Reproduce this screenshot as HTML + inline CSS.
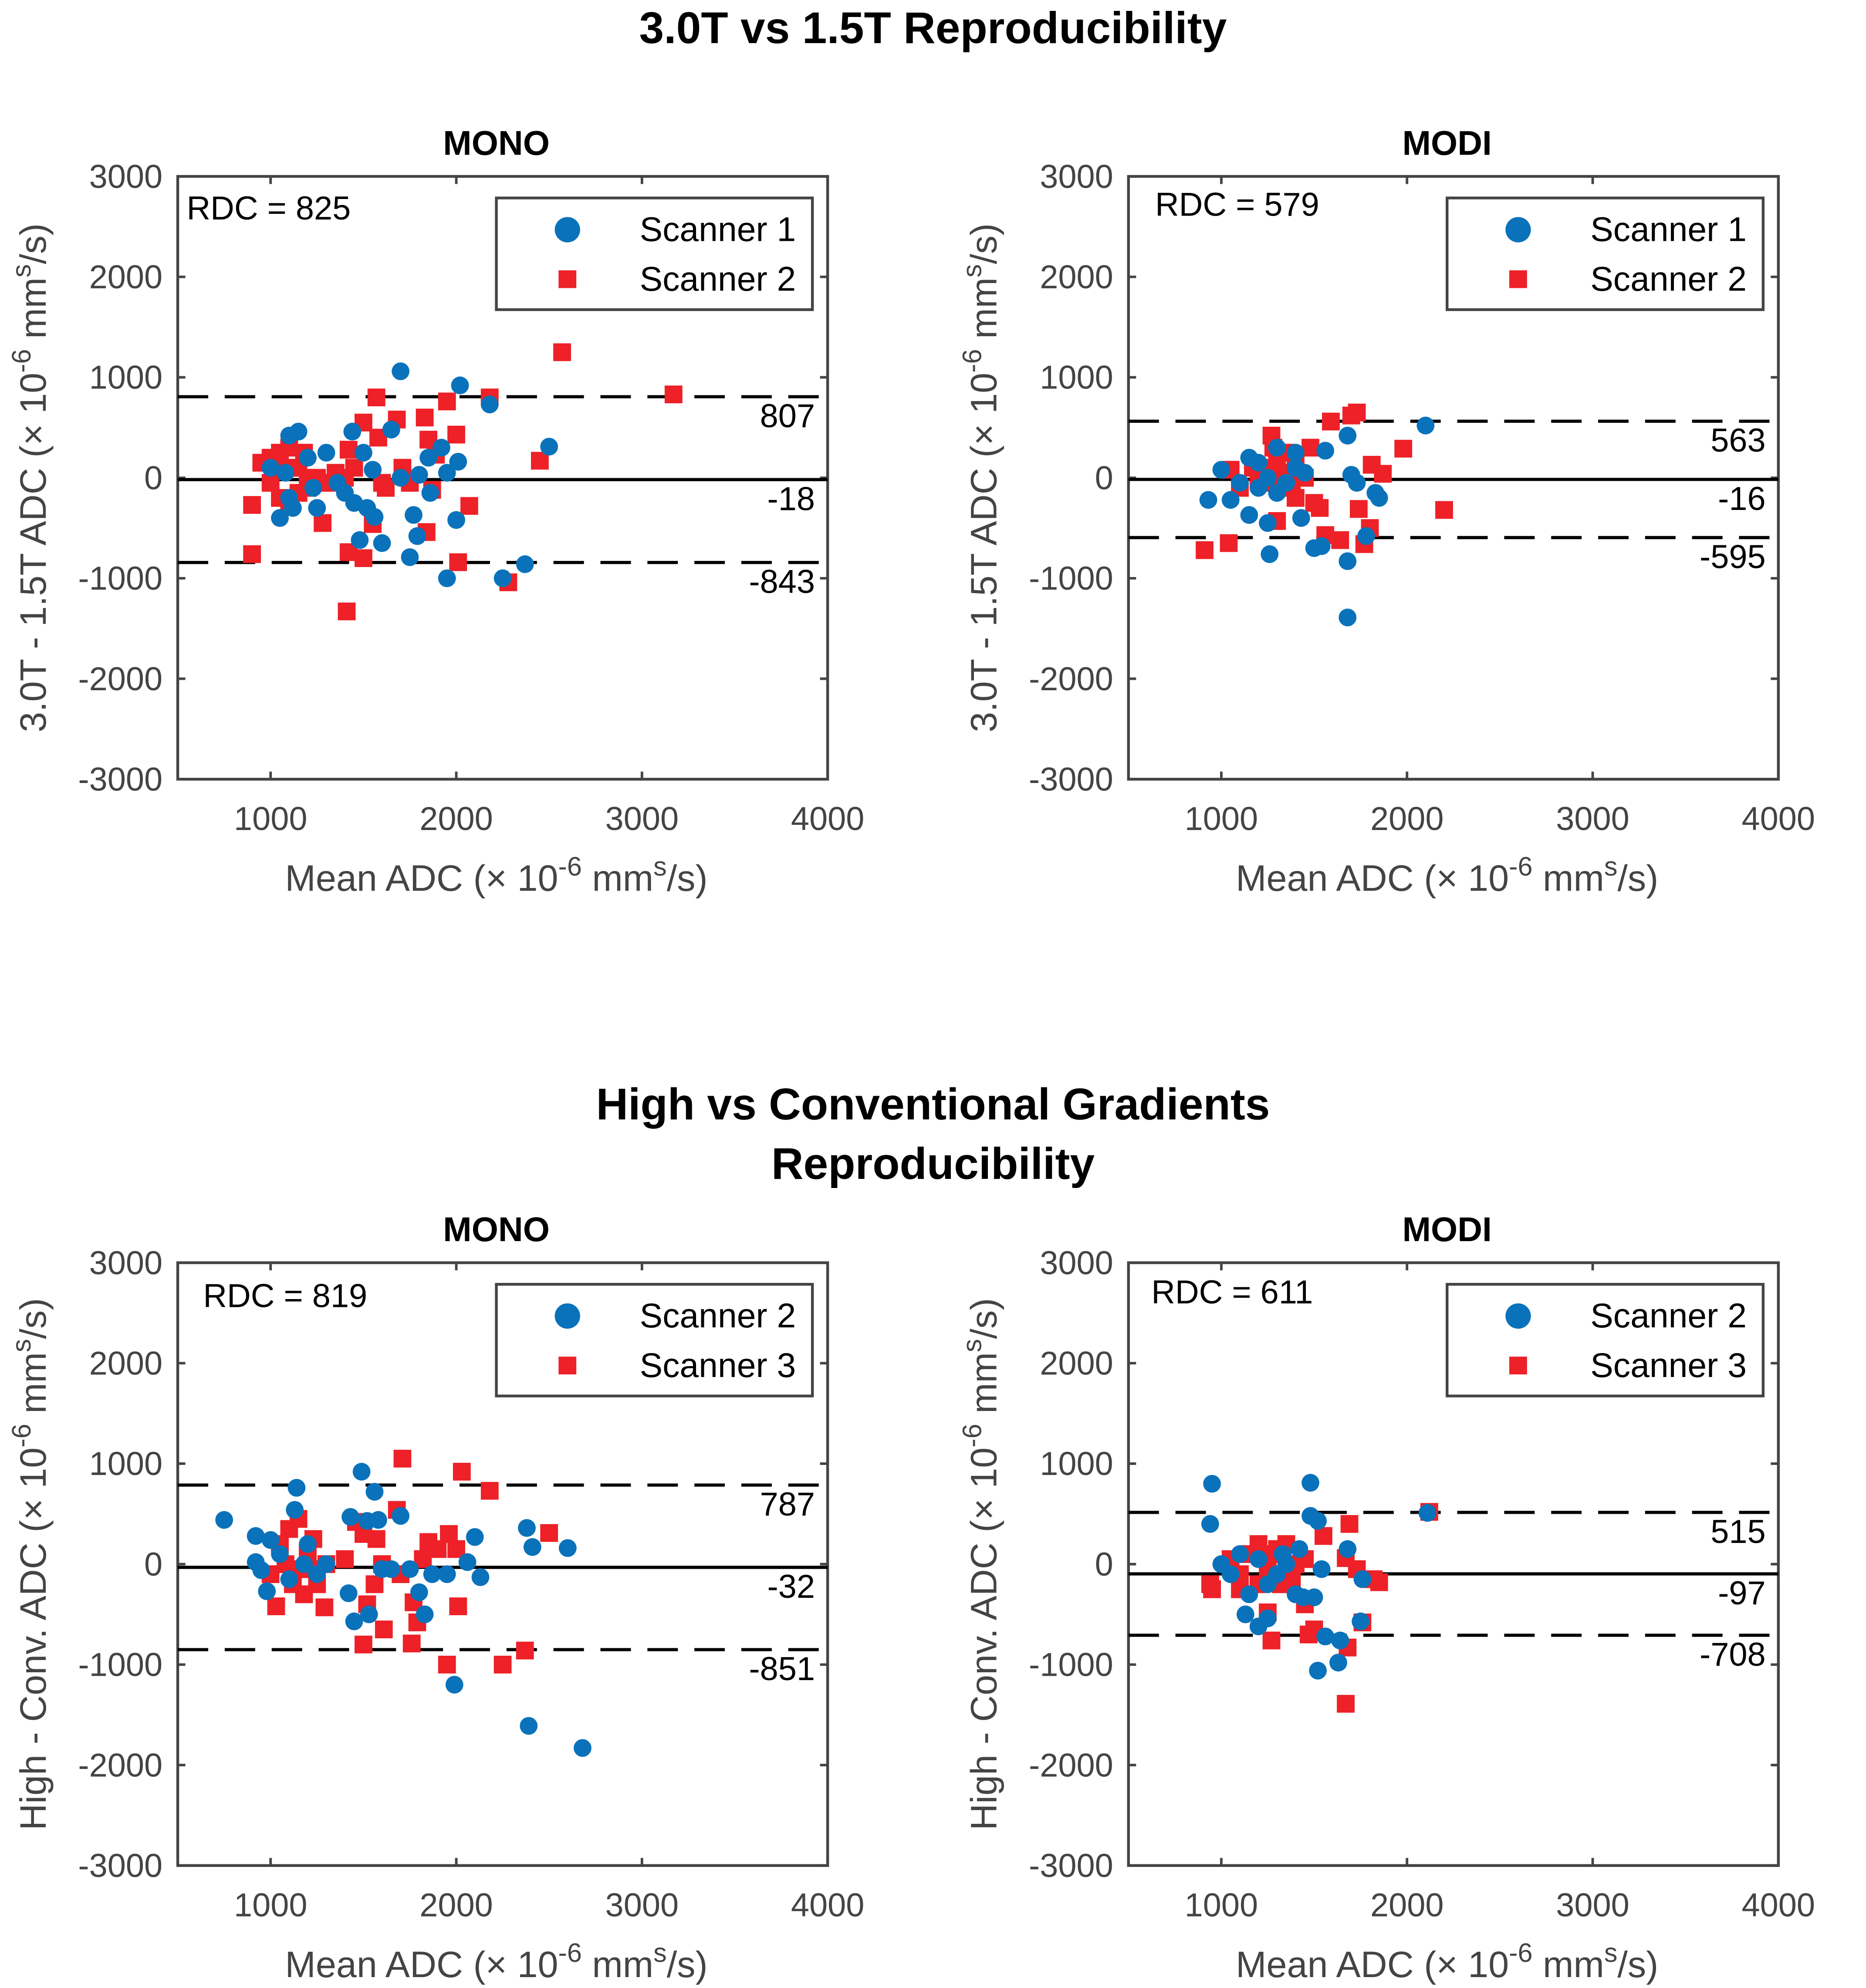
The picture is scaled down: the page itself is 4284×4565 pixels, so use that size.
<!DOCTYPE html>
<html><head><meta charset="utf-8"><style>
html,body{margin:0;padding:0;background:#fff}
svg{display:block}
text{font-family:"Liberation Sans",Arial,sans-serif}
</style></head><body>
<svg id="fig" xmlns="http://www.w3.org/2000/svg" width="4284" height="4565" viewBox="0 0 1470 1566.5">
<text x="735" y="34" text-anchor="middle" font-size="35" font-weight="bold">3.0T vs 1.5T Reproducibility</text>
<text x="735" y="882" text-anchor="middle" font-size="35" font-weight="bold">High vs Conventional Gradients</text>
<text x="735" y="929" text-anchor="middle" font-size="35" font-weight="bold">Reproducibility</text>
</svg>
<script>
// ---- data ----
const p1Scanner1 = [[1700,1060],[2020,920],[2180,730],[2500,310],[1950,-1000],[2250,-1000],[2370,-860],[1750,-790],[1600,-650],[1480,-620],[1790,-580],[1770,-370],[2000,-420],[1560,-390],[1800,30],[1850,200],[1920,300],[2010,160],[1650,480],[1440,460],[1150,460],[1100,420],[1050,-400],[1120,-300],[1250,-300],[1300,250],[1200,200],[1000,100],[1080,50],[1400,-150],[1450,-250],[1520,-300],[1550,80],[1700,0],[1860,-150],[1950,50],[1230,-100],[1100,-200],[1500,250],[1360,-50]];
const p1Scanner2 = [[2570,1250],[3170,830],[2180,800],[1570,800],[1950,760],[1680,580],[1830,600],[1500,550],[1580,400],[1850,380],[2000,430],[1420,280],[1710,100],[1890,230],[2450,170],[2070,-280],[1870,-120],[1620,-100],[1550,-460],[1280,-450],[1500,-800],[1420,-740],[1840,-540],[2010,-840],[2280,-1040],[1410,-1330],[900,-760],[900,-270],[950,150],[1000,-50],[1050,250],[1100,300],[1150,100],[1200,-100],[1050,-200],[1250,0],[1300,-50],[1350,50],[1000,200],[1100,-250],[1180,250],[1400,0],[1450,100],[1600,-50],[1750,-50],[1200,0],[1150,-150],[1080,100]];
const p2Scanner1 = [[2100,520],[1680,420],[1560,270],[1400,250],[1300,300],[1200,150],[1150,200],[1000,80],[930,-220],[1050,-220],[1150,-370],[1260,-760],[1250,-450],[1430,-400],[1500,-700],[1540,-680],[1680,-830],[1680,-1390],[1780,-580],[1830,-150],[1850,-200],[1700,30],[1730,-50],[1350,-50],[1300,-150],[1200,-100],[1100,-50],[1400,100],[1250,0],[1450,50]];
const p2Scanner2 = [[1730,650],[1700,620],[1590,560],[1980,290],[1870,40],[1810,130],[2200,-320],[1740,-310],[1800,-500],[1770,-660],[1640,-620],[1560,-570],[1300,-430],[1040,-650],[910,-720],[1050,80],[1100,-100],[1200,0],[1250,100],[1280,300],[1300,200],[1350,250],[1400,150],[1320,-100],[1230,-50],[1480,300],[1500,-250],[1530,-300],[1400,-200],[1170,100],[1270,420],[1380,-50],[1450,0],[1330,50]];
const p3Scanner2 = [[2680,-1830],[2390,-1610],[1990,-1200],[2380,360],[2410,170],[2600,160],[2100,270],[2130,-130],[2060,20],[1830,-500],[1800,-280],[1950,-100],[1870,-100],[1750,-50],[1700,480],[1490,920],[1560,720],[1520,430],[1430,470],[1140,760],[1130,540],[1000,240],[920,280],[750,440],[920,20],[950,-60],[980,-270],[1050,100],[1100,-150],[1200,200],[1250,-100],[1420,-290],[1450,-570],[1530,-500],[1600,-50],[1650,-50],[1580,440],[1300,0],[1180,0]];
const p3Scanner3 = [[1710,1050],[2030,920],[2180,730],[2500,310],[2370,-860],[2250,-1000],[1950,-1000],[1760,-790],[1500,-800],[1610,-650],[1790,-580],[1770,-380],[2010,-420],[1680,540],[1960,300],[1850,220],[1900,150],[2000,150],[1820,50],[1460,420],[1500,300],[1560,-200],[1520,-400],[1290,-430],[1030,-420],[1000,-100],[1050,200],[1100,350],[1150,450],[1200,100],[1250,-200],[1080,0],[1120,-200],[1180,-300],[1230,250],[1300,0],[1400,50],[1600,0],[1700,-100],[1570,250],[1150,-50],[1220,-50]];
const p4Scanner2 = [[950,800],[940,400],[1480,810],[1480,480],[1520,430],[2110,510],[1750,-570],[1760,-150],[1680,150],[1630,-980],[1520,-1060],[1560,-720],[1640,-760],[1200,-620],[1130,-500],[1250,-540],[1400,-300],[1440,-330],[1500,-330],[1540,-50],[1000,0],[1050,-100],[1100,100],[1200,50],[1300,-100],[1350,0],[1250,-200],[1150,-300],[1420,150],[1330,100]];
const p4Scanner3 = [[2120,520],[1690,400],[1550,280],[1670,60],[1730,-50],[1820,-150],[1850,-180],[1760,-580],[1680,-830],[1670,-1390],[1500,-650],[1470,-700],[1450,-400],[1270,-760],[1250,-480],[940,-200],[950,-250],[1050,50],[1100,-100],[1150,100],[1200,200],[1250,-50],[1300,150],[1350,200],[1400,0],[1450,50],[1380,-150],[1320,-200],[1200,-200],[1260,100],[1100,-250],[1350,-50]];
const xTicks = [1000,2000,3000,4000];
const yTicks = [3000,2000,1000,0,-1000,-2000,-3000];
const meanLines = [-18,-16,-32,-97];
const upperLines = [807,563,787,515];
const lowerLines = [-843,-595,-851,-708];
const rdcValues = [825,579,819,611];

const NS="http://www.w3.org/2000/svg";
const svg=document.getElementById('fig');
function mk(tag,attrs,parent,txt){const e=document.createElementNS(NS,tag);for(const k in attrs)e.setAttribute(k,attrs[k]);if(txt!==undefined)e.textContent=txt;(parent||svg).appendChild(e);return e;}

const panels=[
 {x0:140,y0:139,sub:'MONO',ylab:'3.0T - 1.5T ADC',s:[p1Scanner1,p1Scanner2],names:['Scanner 1','Scanner 2'],rdcX:147,rdcY:173,i:0},
 {x0:889,y0:139,sub:'MODI',ylab:'3.0T - 1.5T ADC',s:[p2Scanner1,p2Scanner2],names:['Scanner 1','Scanner 2'],rdcX:910,rdcY:170,i:1},
 {x0:140,y0:995,sub:'MONO',ylab:'High - Conv. ADC',s:[p3Scanner2,p3Scanner3],names:['Scanner 2','Scanner 3'],rdcX:160,rdcY:1030,i:2},
 {x0:889,y0:995,sub:'MODI',ylab:'High - Conv. ADC',s:[p4Scanner2,p4Scanner3],names:['Scanner 2','Scanner 3'],rdcX:907,rdcY:1027,i:3}
];
const W=512,H=475;
panels.forEach(p=>{
 const g=mk('g',{});
 
 
 const sx=v=>p.x0+(v-500)/3500*W;
 const sy=v=>p.y0+(3000-v)/6000*H;
 const t=mk('text',{x:p.x0+W/2-5,y:p.y0-17,'text-anchor':'middle','font-size':27,'font-weight':'bold'},g,p.sub);
 
 
 const ax=mk('rect',{x:p.x0,y:p.y0,width:W,height:H,fill:'none',stroke:'#444','stroke-width':2.2},g);
 
 
 xTicks.forEach(v=>{
  mk('line',{x1:sx(v),x2:sx(v),y1:p.y0+H,y2:p.y0+H-6,stroke:'#444','stroke-width':2},g);
  mk('line',{x1:sx(v),x2:sx(v),y1:p.y0,y2:p.y0+6,stroke:'#444','stroke-width':2},g);
  const tl=mk('text',{x:sx(v),y:p.y0+H+40,'text-anchor':'middle','font-size':26,fill:'#444'},g,String(v));
  
  
 });
 yTicks.forEach(v=>{
  mk('line',{x1:p.x0,x2:p.x0+6,y1:sy(v),y2:sy(v),stroke:'#444','stroke-width':2},g);
  mk('line',{x1:p.x0+W,x2:p.x0+W-6,y1:sy(v),y2:sy(v),stroke:'#444','stroke-width':2},g);
  const tl=mk('text',{x:p.x0-12,y:sy(v)+9,'text-anchor':'end','font-size':26,fill:'#444'},g,String(v));
  
  
 });
 const xl=mk('text',{x:p.x0+W/2-5,y:p.y0+H+88,'text-anchor':'middle','font-size':29,fill:'#444'},g);
 
 
 xl.innerHTML='Mean ADC (× 10<tspan dy="-12" font-size="21">-6</tspan><tspan dy="12"> mm</tspan><tspan dy="-12" font-size="21">s</tspan><tspan dy="12">/s)</tspan>';
 const yl=mk('text',{x:0,y:0,'text-anchor':'middle','font-size':29,fill:'#444',transform:`translate(${p.x0-104},${p.y0+H/2}) rotate(-90)`},g);
 
 
 yl.innerHTML=p.ylab+' (× 10<tspan dy="-12" font-size="21">-6</tspan><tspan dy="12"> mm</tspan><tspan dy="-12" font-size="21">s</tspan><tspan dy="12">/s)</tspan>';
 const ml=mk('line',{x1:p.x0,x2:p.x0+W,y1:sy(meanLines[p.i]),y2:sy(meanLines[p.i]),stroke:'#000','stroke-width':2.5},g);
 
 
 [upperLines[p.i],lowerLines[p.i]].forEach(v=>{
  const l=mk('line',{x1:p.x0,x2:p.x0+W,y1:sy(v),y2:sy(v),stroke:'#000','stroke-width':2.5,'stroke-dasharray':'24,13'},g);
  
  
 });
 [upperLines[p.i],meanLines[p.i],lowerLines[p.i]].forEach(v=>{
  const l=mk('text',{x:p.x0+W-10,y:sy(v)+24,'text-anchor':'end','font-size':26},g,String(v));
  
  
 });
 const rd=mk('text',{x:p.rdcX,y:p.rdcY,'font-size':26},g,'RDC = '+rdcValues[p.i]);
 
 
 p.s[1].forEach(d=>{
  const r=mk('rect',{x:sx(d[0])-7,y:sy(d[1])-7,width:14,height:14,fill:'#ED2127'},g);
  
  
 });
 p.s[0].forEach(d=>{
  const c=mk('circle',{cx:sx(d[0]),cy:sy(d[1]),r:7,fill:'#0A72BA'},g);
  
  
 });
 const lx=p.x0+W-261, ly=p.y0+17;
 const lg=mk('g',{},g);
 
 
 mk('rect',{x:lx,y:ly,width:249,height:88,fill:'#fff',stroke:'#444','stroke-width':2.2},lg);
 mk('circle',{cx:lx+56,cy:ly+25,r:10,fill:'#0A72BA'},lg);
 mk('rect',{x:lx+49,y:ly+57,width:14,height:14,fill:'#ED2127'},lg);
 const e1=mk('text',{x:lx+236,y:ly+34,'text-anchor':'end','font-size':27},lg,p.names[0]);
 
 
 const e2=mk('text',{x:lx+236,y:ly+73,'text-anchor':'end','font-size':27},lg,p.names[1]);
 
 
});
</script>
</body></html>
